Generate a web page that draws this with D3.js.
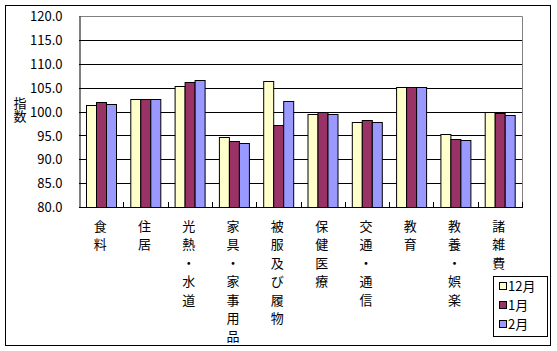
<!DOCTYPE html>
<html>
<head>
<meta charset="utf-8">
<script src="https://cdn.jsdelivr.net/npm/d3@7"></script>
<style>
  body { margin: 0; background: #fff; }
  text { font-family: "Noto Sans CJK JP", "Noto Sans", sans-serif; fill: #000; }
</style>
</head>
<body>
<div id="chart"></div>
<script>
// categories and series values (index)
var categories = ["食料", "住居", "光熱・水道", "家具・家事用品", "被服及び履物",
                  "保健医療", "交通・通信", "教育", "教養・娯楽", "諸雑費"];
var seriesNames = ["12月", "1月", "2月"];
var dec = [101.3, 102.6, 105.3, 94.7, 106.4, 99.4, 97.7, 105.1, 95.2, 99.8];
var jan = [101.9, 102.6, 106.2, 93.8, 97.1, 99.8, 98.2, 105.1, 94.2, 99.7];
var feb = [101.5, 102.6, 106.6, 93.5, 102.2, 99.4, 97.9, 105.1, 94.0, 99.2];
var yTicks = [80, 85, 90, 95, 100, 105, 110, 115, 120];
var colors = ["#FFFFCC", "#993366", "#9999FF"];

var width = 557, height = 351;
var plot = { left: 79, top: 16, right: 522, bottom: 207 };

var svg = d3.select("#chart").append("svg")
    .attr("width", width)
    .attr("height", height);

// outer frame
svg.append("rect")
    .attr("x", 5.5).attr("y", 5.5)
    .attr("width", 545).attr("height", 340)
    .attr("fill", "#fff").attr("stroke", "#000").attr("stroke-width", 1);

var xScale = d3.scaleBand().domain(categories).range([plot.left, plot.right]);
var yScale = d3.scaleLinear().domain([80, 120]).range([plot.bottom, plot.top]);
var xInner = d3.scaleBand().domain(seriesNames).range([0, xScale.bandwidth()]).paddingOuter(0.7);

// gridlines
svg.append("g").selectAll("line")
    .data(yTicks.slice(1, -1))
    .enter().append("line")
    .attr("x1", plot.left).attr("x2", plot.right)
    .attr("y1", function(d) { return Math.round(yScale(d)) + 0.5; })
    .attr("y2", function(d) { return Math.round(yScale(d)) + 0.5; })
    .attr("stroke", "#000");

// gray top and right border of plot area
svg.append("path")
    .attr("d", "M" + plot.left + "," + (plot.top + 0.5) + "H" + (plot.right + 0.5) + "V" + plot.bottom)
    .attr("fill", "none").attr("stroke", "#808080");

// bars
var table = categories.map(function(c, i) {
    return { cat: c, vals: [dec[i], jan[i], feb[i]] };
});
var groups = svg.append("g").selectAll("g")
    .data(table)
    .enter().append("g")
    .attr("transform", function(d) { return "translate(" + xScale(d.cat) + ",0)"; });
groups.selectAll("rect")
    .data(function(d) { return d.vals.map(function(v, j) { return { s: seriesNames[j], v: v, j: j }; }); })
    .enter().append("rect")
    .attr("x", function(d) { return Math.round(xInner(d.s)) + 0.5; })
    .attr("y", function(d) { return Math.round(yScale(d.v)) + 0.5; })
    .attr("width", Math.round(xInner.bandwidth()))
    .attr("height", function(d) { return plot.bottom - Math.round(yScale(d.v)); })
    .attr("fill", function(d) { return colors[d.j]; })
    .attr("stroke", "#000");

// y axis
var yAxis = svg.append("g")
    .attr("transform", "translate(" + (plot.left + 0.5) + ",0)")
    .call(d3.axisLeft(yScale).tickValues(yTicks).tickFormat(d3.format(".1f")).tickSize(0).tickPadding(17));
yAxis.select(".domain").attr("stroke", "#000");
yAxis.selectAll("text").style("font-size", "13px").attr("dy", "0.36em");

// x axis with tick marks pointing up between categories
var xAxisG = svg.append("g");
xAxisG.append("line")
    .attr("x1", plot.left).attr("x2", plot.right + 1)
    .attr("y1", plot.bottom + 0.5).attr("y2", plot.bottom + 0.5)
    .attr("stroke", "#000");
xAxisG.selectAll(".tk")
    .data(categories.slice(1).concat(["end"]))
    .enter().append("line")
    .attr("x1", function(d, i) { return Math.round(plot.left + (i + 1) * xScale.step()) + 0.5; })
    .attr("x2", function(d, i) { return Math.round(plot.left + (i + 1) * xScale.step()) + 0.5; })
    .attr("y1", plot.bottom).attr("y2", plot.bottom - 5)
    .attr("stroke", "#000");

// vertical category labels
var labels = svg.append("g").selectAll("text")
    .data(categories)
    .enter().append("text")
    .attr("text-anchor", "middle")
    .style("font-size", "13px");
labels.each(function(d) {
    var t = d3.select(this);
    var cx = xScale(d) + xScale.bandwidth() / 2 - 1;
    d.split("").forEach(function(ch, k) {
        t.append("tspan")
            .attr("x", cx)
            .attr("y", 231 + k * 18.4)
            .text(ch);
    });
});

// y axis title, written top to bottom
svg.append("text")
    .attr("x", 20).attr("y", 110)
    .attr("text-anchor", "middle")
    .style("writing-mode", "vertical-rl")
    .style("font-size", "13px")
    .text("指数");

// legend
var legend = svg.append("g");
legend.append("rect")
    .attr("x", 493.5).attr("y", 276.5)
    .attr("width", 54).attr("height", 60)
    .attr("fill", "#fff").attr("stroke", "#000");
var items = legend.selectAll(".item")
    .data(seriesNames)
    .enter().append("g")
    .attr("transform", function(d, i) { return "translate(0," + (286 + i * 19) + ")"; });
items.append("rect")
    .attr("x", 499.5).attr("y", -3.5)
    .attr("width", 7).attr("height", 7)
    .attr("fill", function(d, i) { return colors[i]; })
    .attr("stroke", "#000");
items.append("text")
    .attr("x", 508).attr("y", 0).attr("dy", "0.36em")
    .style("font-size", "13px")
    .text(function(d) { return d; });
</script>
</body>
</html>
